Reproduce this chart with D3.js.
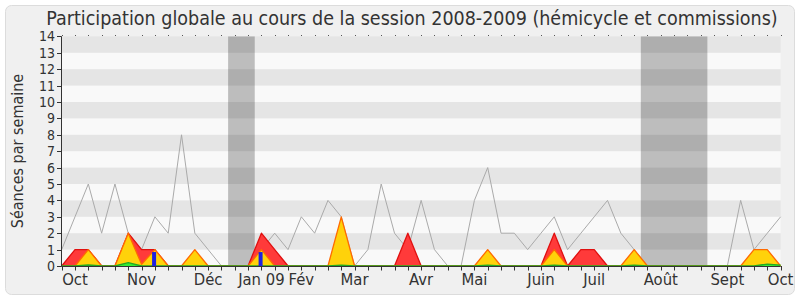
<!DOCTYPE html>
<html><head><meta charset="utf-8">
<script src="https://cdn.jsdelivr.net/npm/d3@7"></script>
<style>html,body{margin:0;padding:0;background:#fff;}svg{display:block;}</style>
</head><body>
<svg id="c" width="800" height="300"></svg>
<script>
const title = "Participation globale au cours de la session 2008-2009 (hémicycle et commissions)";
const yLabel = "Séances par semaine";
const weeks = d3.range(0, 55);
const median = [1,3,5,2,5,2,1,3,2,8,2,1,0,0,0,1,2,1,3,2,4,3,0,1,5,2,1,4,1,0,0,4,6,2,2,1,2,3,1,2,3,4,2,1,0,0,0,0,0,0,0,4,1,2,3];
const hemicycle = [0,1,1,0,0,2,1,1,0,0,0,0,0,0,0,2,1,0,0,0,0,0,0,0,0,0,2,0,0,0,0,0,0,0,0,0,0,2,0,1,1,0,0,0,0,0,0,0,0,0,0,0,0,0,0];
const commission = [0,0,1,0,0,2,0.1,1,0,0,1,0,0,0,0,1,0,0,0,0,0,3,0,0,0,0,0,0,0,0,0,0,1,0,0,0,0,1,0,0,0,0,0,1,0,0,0,0,0,0,0,0,1,1,0];
const interventions = [0,0,0.06,0,0,0.2,0,0,0,0,0,0,0,0,0,0,0,0,0,0,0,0.05,0,0,0,0,0,0,0,0,0,0,0.05,0,0,0,0,0.05,0,0,0,0,0,0.05,0,0,0,0,0,0,0,0,0,0.12,0.05];
const questionWeeks = [7, 15];
const questionValues = [0.85, 0.85];
const vacations = [[12.5, 14.5], [43.5, 48.5]];
const monthLabels = ["Oct","Nov","Déc","Jan 09","Fév","Mar","Avr","Mai","Juin","Juil","Août","Sept","Oct"];
const monthWeeks = [1,6,11,15,18,22,27,31,36,40,45,50,54];
const yTicks = d3.range(0, 15);

const svg = d3.select("#c");
const FONT = "'DejaVu Sans Condensed','DejaVu Sans',sans-serif";
const x = d3.scaleLinear().domain([0, 54]).range([61.7, 780.6]);
const y = d3.scaleLinear().domain([0, 14]).range([266, 36.4]);

svg.append("rect").attr("x",5.5).attr("y",5.5).attr("width",789).attr("height",289)
  .attr("rx",6).attr("fill","#f0f0f0").attr("stroke","#dcdcdc");

svg.append("text").attr("x",412).attr("y",25).attr("text-anchor","middle")
  .attr("font-family",FONT).attr("font-size",19.5).attr("fill","#333").text(title);

const plot = svg.append("g");
plot.append("rect").attr("x",x(0)).attr("y",y(14)).attr("width",x(54)-x(0)).attr("height",y(0)-y(14)).attr("fill","#f9f9f9");
plot.selectAll("rect.vac").data(vacations).join("rect").attr("class","vac")
  .attr("x",d=>x(d[0])).attr("width",d=>x(d[1])-x(d[0])).attr("y",y(14)).attr("height",y(0)-y(14)).attr("fill","#bdbdbd");
plot.selectAll("rect.band").data(d3.range(1,14,2)).join("rect").attr("class","band")
  .attr("x",x(0)).attr("width",x(54)-x(0)).attr("y",d=>y(d+1)).attr("height",d=>y(d)-y(d+1))
  .attr("fill","rgba(0,0,0,0.08)");
plot.selectAll("rect.dot").data(weeks).join("rect").attr("class","dot")
  .attr("x",d=>Math.round(x(d))).attr("y",35).attr("width",1).attr("height",1).attr("fill","#555");

plot.append("path").datum(median).attr("fill","none").attr("stroke","#aaaaaa").attr("stroke-width",1)
  .attr("d", d3.line().x((d,i)=>x(i)).y(d=>y(d)));

function drawArea(vals, fill, stroke){
  plot.append("path").datum(vals).attr("fill",fill)
    .attr("d", d3.area().x((d,i)=>x(i)).y0(y(0)).y1(d=>y(d)));
  plot.append("path").datum(vals).attr("fill","none").attr("stroke",stroke).attr("stroke-width",1.3)
    .attr("stroke-linejoin","round")
    .attr("d", d3.line().x((d,i)=>x(i)).y(d=>y(d)));
}
drawArea(hemicycle, "#ff3a3a", "#e01010");
drawArea(commission, "#ffd20a", "#ff6a00");
drawArea(interventions, "#33ee33", "#22aa22");

plot.selectAll("rect.q").data(questionWeeks).join("rect").attr("class","q")
  .attr("x",d=>x(d)-2.8).attr("width",4).attr("y",(d,i)=>y(questionValues[i]))
  .attr("height",(d,i)=>y(0)-y(questionValues[i])).attr("fill","#2020e0");

const ax = svg.append("g").attr("stroke","#333").attr("stroke-width",1);
ax.append("line").attr("x1",x(0)).attr("x2",x(54)).attr("y1",266.5).attr("y2",266.5);
ax.append("line").attr("x1",61.5).attr("x2",61.5).attr("y1",y(14)).attr("y2",266.5);
ax.selectAll("line.xt").data(weeks).join("line").attr("class","xt")
  .attr("x1",d=>Math.round(x(d))+0.5).attr("x2",d=>Math.round(x(d))+0.5).attr("y1",266).attr("y2",270.5);
ax.selectAll("line.yt").data(yTicks).join("line").attr("class","yt")
  .attr("x1",57).attr("x2",61.5).attr("y1",d=>Math.round(y(d))+0.5).attr("y2",d=>Math.round(y(d))+0.5);

svg.selectAll("text.yl").data(yTicks).join("text").attr("class","yl")
  .attr("x",55).attr("y",d=>y(d)+5).attr("text-anchor","end")
  .attr("font-family",FONT).attr("font-size",14).attr("fill","#333").text(d=>d);
svg.selectAll("text.xl").data(monthLabels).join("text").attr("class","xl")
  .attr("x",(d,i)=>x(monthWeeks[i])).attr("y",284.5).attr("text-anchor","middle")
  .attr("font-family",FONT).attr("font-size",16.5).attr("fill","#333").text(d=>d);
svg.append("text").attr("transform","translate(23,151) rotate(-90)").attr("text-anchor","middle")
  .attr("font-family",FONT).attr("font-size",16).attr("fill","#333").text(yLabel);
</script>
</body></html>
